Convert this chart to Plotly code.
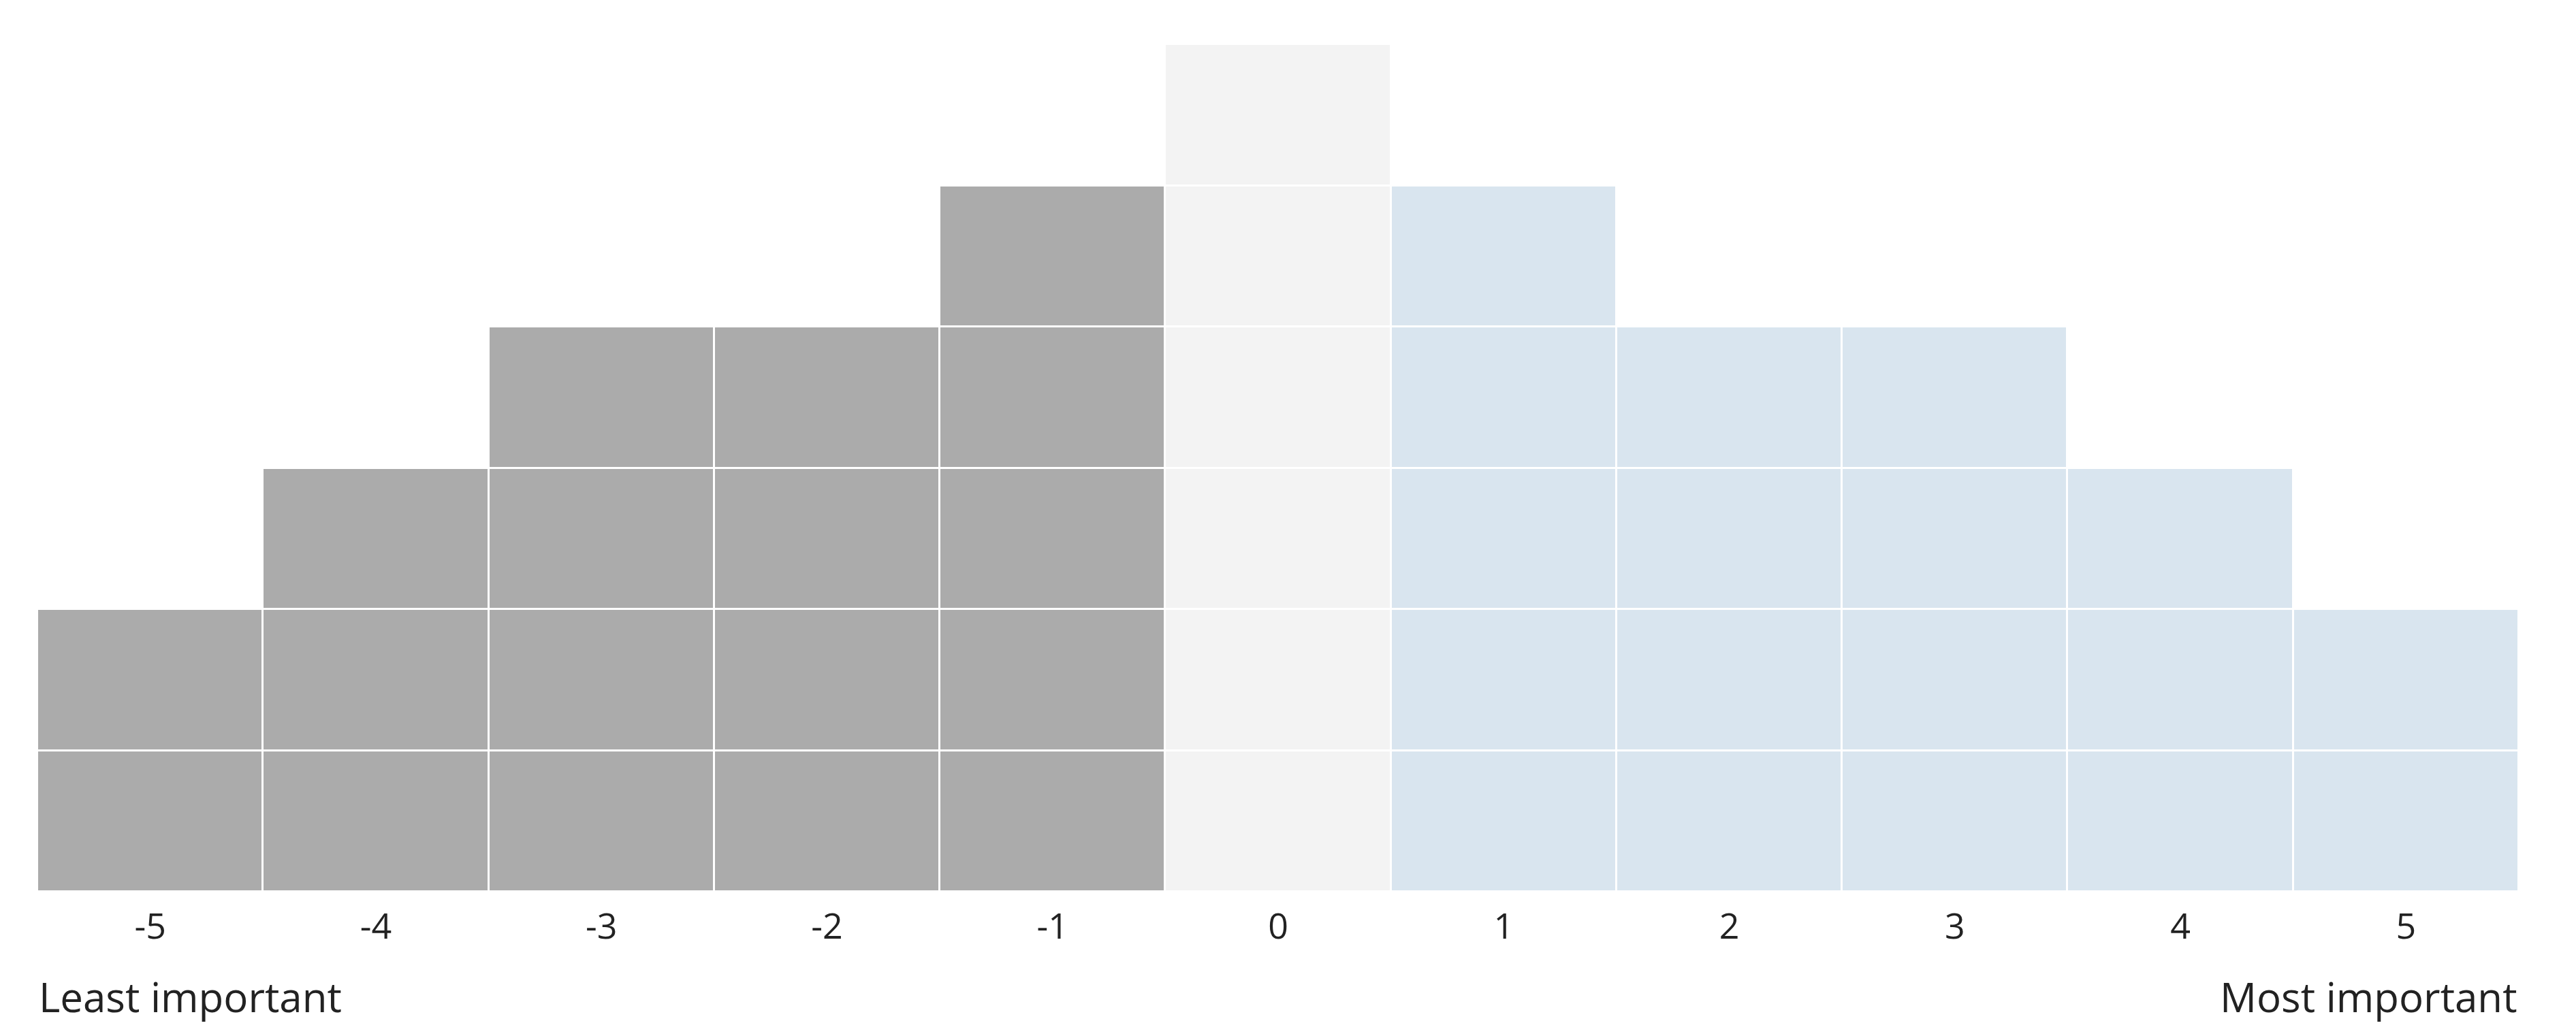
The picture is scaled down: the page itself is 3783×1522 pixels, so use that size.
import plotly.graph_objects as go

# Q-sort grid: score columns and how many cells each column holds
scores = [-5, -4, -3, -2, -1, 0, 1, 2, 3, 4, 5]
tick_labels = ["-5", "-4", "-3", "-2", "-1", "0", "1", "2", "3", "4", "5"]
cells_per_column = [2, 3, 4, 4, 5, 6, 5, 4, 4, 3, 2]
left_label = "Least important"
right_label = "Most important"


def cell_color(score):
    if score < 0:
        return "#ababab"
    if score == 0:
        return "#f3f3f3"
    return "#d9e5ef"


fig = go.Figure()
for level in range(1, max(cells_per_column) + 1):
    xs = [s for s, n in zip(scores, cells_per_column) if n >= level]
    fig.add_trace(go.Bar(
        x=xs, y=[1] * len(xs),
        marker=dict(color=[cell_color(s) for s in xs],
                    line=dict(color="white", width=3)),
        width=1, hoverinfo="skip", showlegend=False,
    ))

fig.update_layout(
    width=3783, height=1522,
    barmode="stack", bargap=0,
    paper_bgcolor="white", plot_bgcolor="white",
    margin=dict(l=47, r=92, t=57, b=220),
    font=dict(family="Open Sans", color="#222222"),
    xaxis=dict(range=[-5.5, 5.5], tickvals=scores, ticktext=tick_labels,
               showgrid=False, zeroline=False, showline=False, ticks="",
               ticklabelstandoff=16,
               tickfont=dict(size=52, color="#222222")),
    yaxis=dict(range=[0, 6], visible=False),
)

fig.add_annotation(text=left_label, xref="paper", yref="paper", x=0, y=-0.124,
                   xanchor="left", yanchor="middle", showarrow=False,
                   font=dict(size=60, color="#222222"))
fig.add_annotation(text=right_label, xref="paper", yref="paper", x=1, y=-0.124,
                   xanchor="right", yanchor="middle", showarrow=False,
                   font=dict(size=60, color="#222222"))

fig.write_html("out.html")
